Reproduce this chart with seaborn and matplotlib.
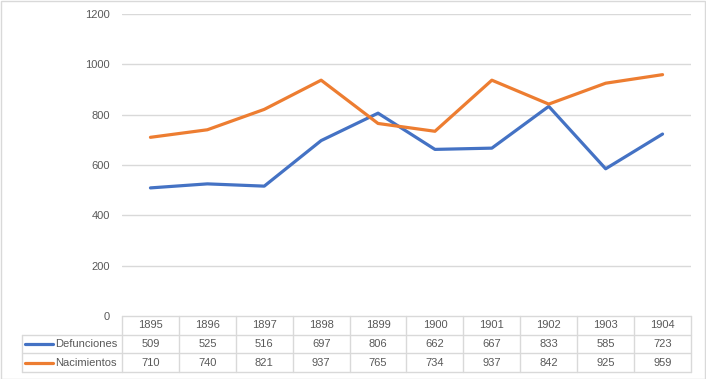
import numpy as np
import pandas as pd
import matplotlib
matplotlib.use("Agg")
import matplotlib.pyplot as plt
import seaborn as sns
from matplotlib.lines import Line2D
from matplotlib.patches import Rectangle

years = ["1895", "1896", "1897", "1898", "1899", "1900", "1901", "1902", "1903", "1904"]
defunciones = [509, 525, 516, 697, 806, 662, 667, 833, 585, 723]
nacimientos = [710, 740, 821, 937, 765, 734, 937, 842, 925, 959]
series_names = ["Defunciones", "Nacimientos"]
colors = ["#4472C4", "#ED7D31"]
yticks = [0, 200, 400, 600, 800, 1000, 1200]

df = pd.DataFrame({
    "pos": list(range(len(years))) * 2,
    "value": defunciones + nacimientos,
    "serie": [series_names[0]] * len(years) + [series_names[1]] * len(years),
})

sns.set_theme(style="white")
plt.rcParams["font.family"] = ["Liberation Sans", "DejaVu Sans"]
text_color = "#595959"
grid_color = "#D9D9D9"
fs = 8

W, H = 706, 379
fig = plt.figure(figsize=(W / 100, H / 100), dpi=100)
left, right, top, bottom = 122, 691, 14, 316
ax = fig.add_axes([left / W, 1 - bottom / H, (right - left) / W, (bottom - top) / H])

sns.lineplot(data=df, x="pos", y="value", hue="serie", palette=colors,
             linewidth=2.3, ax=ax, legend=False, sort=False)

ax.set_xlim(-0.5, len(years) - 0.5)
ax.set_ylim(0, 1200)
ax.set_yticks(yticks)
ax.set_yticklabels([str(t) for t in yticks], color=text_color, fontsize=fs)
ax.tick_params(axis="y", length=0, pad=8.5)
ax.set_xticks([])
ax.set_xlabel("")
ax.set_ylabel("")
for s in ax.spines.values():
    s.set_visible(False)
for t in yticks[1:]:
    ax.axhline(t, color=grid_color, lw=1, zorder=0)

# data table below the axes
ph = bottom - top
row_h = 18.7 / ph
trans = ax.get_xaxis_transform()
n = len(years)
label_left = -0.5 - 100 / ((right - left) / n)
ys = [0, -row_h, -2 * row_h, -3 * row_h]
# horizontal lines
ax.add_line(Line2D([-0.5, n - 0.5], [ys[0], ys[0]], transform=trans, color=grid_color, lw=1, clip_on=False))
for yy in ys[1:]:
    ax.add_line(Line2D([label_left, n - 0.5], [yy, yy], transform=trans, color=grid_color, lw=1, clip_on=False))
# vertical lines
for i in range(n + 1):
    ax.add_line(Line2D([i - 0.5, i - 0.5], [ys[0], ys[3]], transform=trans, color=grid_color, lw=1, clip_on=False))
ax.add_line(Line2D([label_left, label_left], [ys[1], ys[3]], transform=trans, color=grid_color, lw=1, clip_on=False))

for i, yr in enumerate(years):
    ax.text(i, (ys[0] + ys[1]) / 2, yr, transform=trans, ha="center", va="center", color=text_color, fontsize=fs)
for r, vals in enumerate([defunciones, nacimientos]):
    yc = (ys[r + 1] + ys[r + 2]) / 2
    for i, v in enumerate(vals):
        ax.text(i, yc, str(v), transform=trans, ha="center", va="center", color=text_color, fontsize=fs)
    key_x0 = label_left + 0.05
    key_x1 = label_left + 0.55
    ax.add_line(Line2D([key_x0, key_x1], [yc, yc], transform=trans, color=colors[r], lw=2.3, clip_on=False))
    ax.text(key_x1 + 0.03, yc, series_names[r], transform=trans, ha="left", va="center", color=text_color, fontsize=fs)

# outer chart border
fig.add_artist(Rectangle((0.5 / W, 0.5 / H), (W - 1.5) / W, (H - 1.5) / H, transform=fig.transFigure,
                         fill=False, edgecolor=grid_color, lw=1))

fig.savefig("out.png", dpi=100, facecolor="white")
